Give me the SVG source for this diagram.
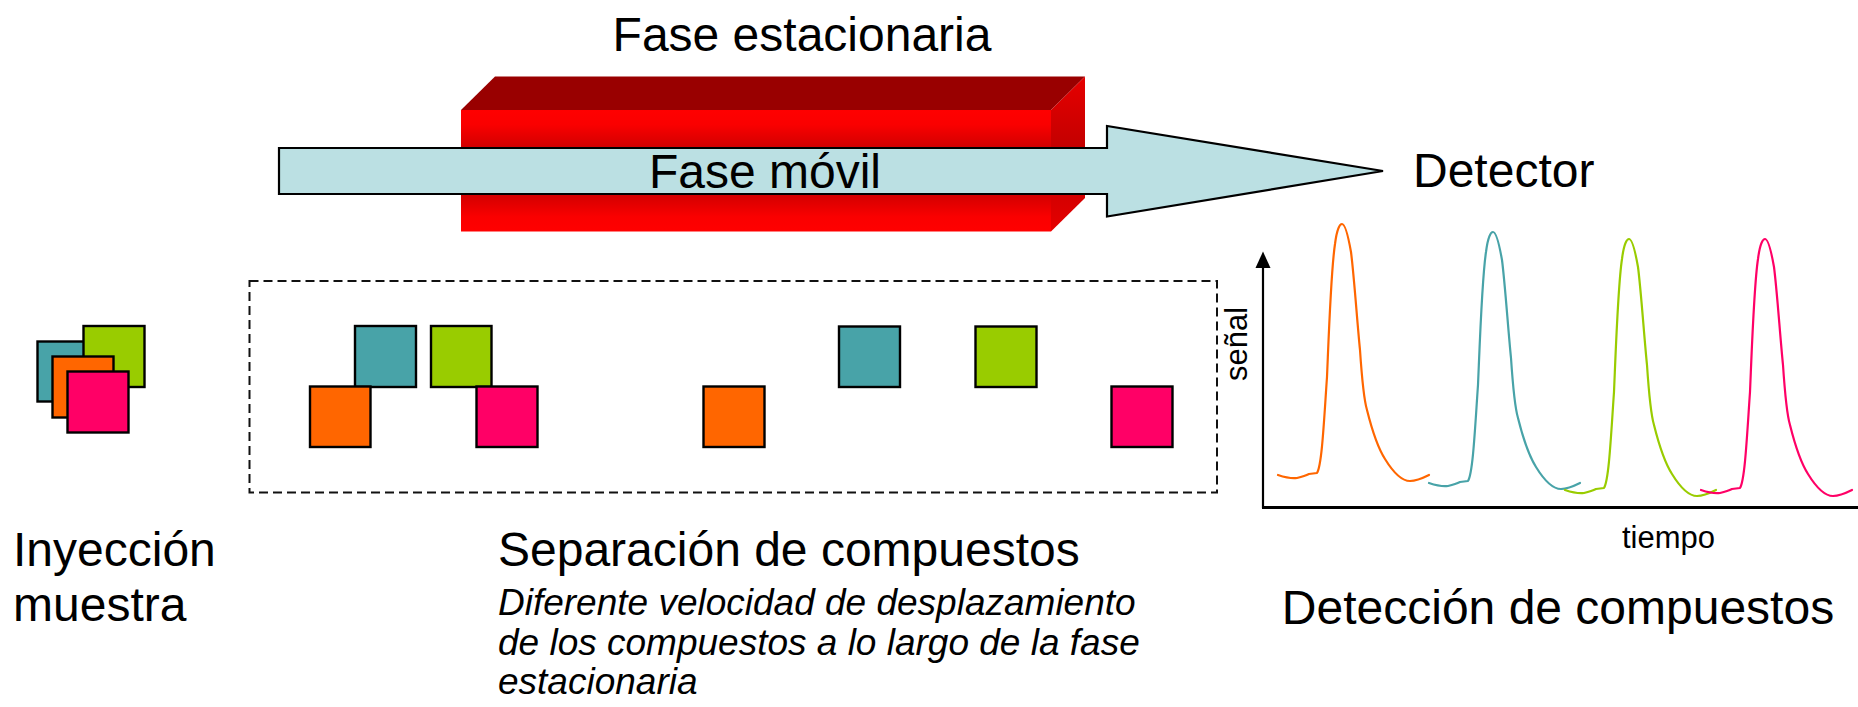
<svg xmlns="http://www.w3.org/2000/svg" xmlns:xlink="http://www.w3.org/1999/xlink" width="1858" height="707" viewBox="0 0 1858 707">
<style>
  text { font-family: "Liberation Sans", Arial, sans-serif; fill: #000; }
  .big { font-size: 48px; }
  .small { font-size: 31px; }
  .ital { font-size: 37px; font-style: italic; }
  .sq { stroke: #000; stroke-width: 2.4; }
  .teal { fill: #48A3A8; }
  .green { fill: #99CC00; }
  .orange { fill: #FF6600; }
  .pink { fill: #FF0066; }
  .peak { fill: none; stroke-width: 2.2; stroke-linejoin: round; stroke-linecap: round; }
</style>
<defs>
  <linearGradient id="frontGrad" x1="0" y1="0" x2="0" y2="1">
    <stop offset="0" stop-color="#ff0000"/>
    <stop offset="0.12" stop-color="#fa0000"/>
    <stop offset="0.5" stop-color="#a80000"/>
    <stop offset="0.88" stop-color="#fa0000"/>
    <stop offset="1" stop-color="#ff0000"/>
  </linearGradient>
  <linearGradient id="sideGrad" x1="0" y1="0" x2="0" y2="1">
    <stop offset="0" stop-color="#e60000"/>
    <stop offset="0.5" stop-color="#c00000"/>
    <stop offset="1" stop-color="#e60000"/>
  </linearGradient>
  <path id="pk" d="M1278,475 Q1290,479 1297,478 Q1305,476 1309,474 L1317,473 C1322,465 1324,420 1327,377 C1329,330 1331,270 1335,244 C1337,228 1340,224 1342,224 C1345,224 1348,235 1351,252 C1354,275 1357,320 1360,350 C1362,380 1364,400 1367,410 C1372,430 1378,448 1385,459 C1393,472 1402,481 1410,481 C1417,481 1423,478 1429,475"/>
</defs>
<rect width="1858" height="707" fill="#ffffff"/>

<g id="fase-estacionaria">
  <polygon points="461,110 495,76.5 1085,76.5 1051,110" fill="#990000"/>
  <polygon points="1051,110 1085,76.5 1085,198 1051,231.5" fill="url(#sideGrad)"/>
  <rect x="461" y="110" width="590" height="121.5" fill="url(#frontGrad)"/>
  <text class="big" x="802" y="51" text-anchor="middle">Fase estacionaria</text>
</g>

<g id="fase-movil">
  <polygon points="279,148 1107,148 1107,126 1383,171 1107,216.5 1107,194 279,194" fill="#BBE0E3" stroke="#000" stroke-width="2.2" stroke-linejoin="miter"/>
  <text class="big" x="765" y="188" text-anchor="middle">Fase móvil</text>
</g>

<g id="detector">
  <text class="big" x="1413" y="187">Detector</text>
</g>

<g id="inyeccion">
  <rect class="sq teal" x="37.5" y="341.5" width="61" height="60"/>
  <rect class="sq green" x="83.5" y="326" width="61" height="61"/>
  <rect class="sq orange" x="52.5" y="356.5" width="61" height="61"/>
  <rect class="sq pink" x="67.5" y="371.5" width="61" height="61"/>
  <text class="big" x="13" y="566">Inyección</text>
  <text class="big" x="13" y="621">muestra</text>
</g>

<g id="separacion">
  <rect x="249.5" y="281" width="967.5" height="211.5" fill="none" stroke="#111" stroke-width="2" stroke-dasharray="9,5"/>
  <rect class="sq teal" x="355" y="326" width="61" height="61"/>
  <rect class="sq green" x="431" y="326" width="60.5" height="61"/>
  <rect class="sq orange" x="310" y="386.5" width="60.5" height="60.5"/>
  <rect class="sq pink" x="476.5" y="386.5" width="61" height="60.5"/>
  <rect class="sq orange" x="703.5" y="386.5" width="61" height="60.5"/>
  <rect class="sq teal" x="839" y="326.5" width="61" height="60.5"/>
  <rect class="sq green" x="975.5" y="326.5" width="61" height="60.5"/>
  <rect class="sq pink" x="1111.5" y="386.5" width="61" height="60.5"/>
  <text class="big" x="498" y="566">Separación de compuestos</text>
  <text class="ital" x="498" y="615">Diferente velocidad de desplazamiento</text>
  <text class="ital" x="498" y="655">de los compuestos a lo largo de la fase</text>
  <text class="ital" x="498" y="694">estacionaria</text>
</g>

<g id="cromatograma">
  <use xlink:href="#pk" href="#pk" class="peak" stroke="#FF6600"/>
  <use xlink:href="#pk" href="#pk" class="peak" stroke="#48A3A8" transform="translate(151,8)"/>
  <use xlink:href="#pk" href="#pk" class="peak" stroke="#99CC00" transform="translate(287,15)"/>
  <use xlink:href="#pk" href="#pk" class="peak" stroke="#FF0066" transform="translate(423,15)"/>
  <text class="small" transform="translate(1247,344) rotate(-90)" text-anchor="middle">señal</text>
  <text class="small" x="1668.5" y="548" text-anchor="middle">tiempo</text>
</g>

<g id="connectors">
  <line x1="1263" y1="266" x2="1263" y2="508" stroke="#000" stroke-width="2.2"/>
  <polygon points="1263,251.5 1255.5,268 1270.5,268" fill="#000"/>
  <line x1="1262" y1="507.5" x2="1858" y2="507.5" stroke="#000" stroke-width="3"/>
</g>

<g id="deteccion">
  <text class="big" x="1558" y="624" text-anchor="middle">Detección de compuestos</text>
</g>
</svg>
